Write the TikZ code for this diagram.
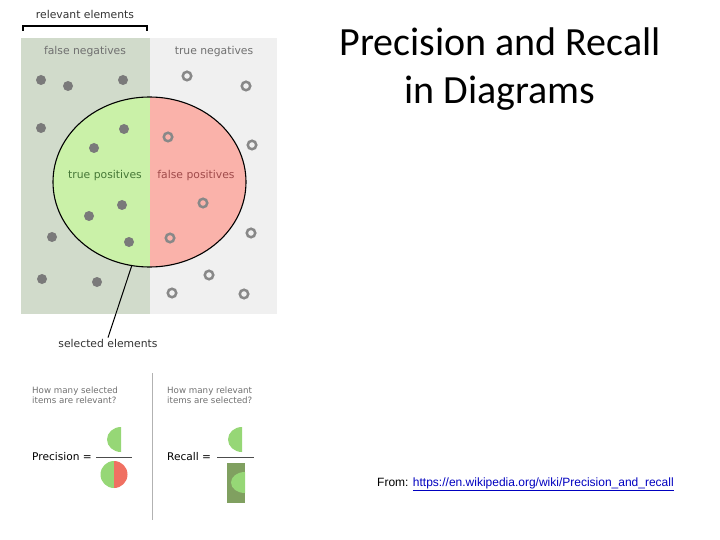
\documentclass[tikz,border=0pt]{standalone}
\usepackage{fontspec}
\usepackage{tikz}
\usetikzlibrary{positioning}
\usetikzlibrary{shapes.geometric}
\newfontfamily\wikifont{DejaVu Sans}
\newfontfamily\titlefont{Carlito}
\newfontfamily\fromfont{Liberation Sans}
\definecolor{fnbg}{RGB}{209,219,203}
\definecolor{tnbg}{RGB}{240,240,240}
\definecolor{tpfill}{RGB}{202,241,168}
\definecolor{fpfill}{RGB}{250,178,170}
\definecolor{dotgrey}{RGB}{122,122,122}
\definecolor{ringgrey}{RGB}{136,136,136}
\definecolor{lblgrey}{RGB}{112,112,112}
\definecolor{tptext}{RGB}{70,120,55}
\definecolor{fptext}{RGB}{160,75,75}
\definecolor{hgreen}{RGB}{150,215,118}
\definecolor{hred}{RGB}{240,112,98}
\definecolor{hdark}{RGB}{128,160,96}
\tikzset{
  fndot/.style={circle,fill=dotgrey,inner sep=0pt,minimum size=10pt},
  tndot/.style={circle,draw=ringgrey,line width=2.5pt,inner sep=0pt,minimum size=8.5pt},
  lbl/.style={font=\wikifont\fontsize{10.8}{12}\selectfont,text=lblgrey,inner sep=1pt},
  qtext/.style={lbl,anchor=north west,align=left,font=\wikifont\fontsize{8.7}{10}\selectfont},
  frac/.style={font=\wikifont\fontsize{10.6}{12}\selectfont,inner sep=1pt,anchor=west}
}
\newcommand{\ellx}{149.5}
\newcommand{\elly}{182}

\begin{document}
\begin{tikzpicture}[x=1pt,y=-1pt]
\useasboundingbox (0,0) rectangle (720,540);
% panels
\fill[fnbg] (21,38) rectangle (149.5,314);
\fill[tnbg] (149.5,38) rectangle (277,314);
\begin{scope}
  \clip (\ellx,\elly) ellipse [x radius=96.5, y radius=85];
  \fill[tpfill] (53,97) rectangle (\ellx,267);
  \fill[fpfill] (\ellx,97) rectangle (246,267);
\end{scope}
\node (sel) [ellipse,draw,line width=1.1pt,minimum width=193pt,minimum height=170pt,inner sep=0pt] at (\ellx,\elly) {};

\node (fn) [lbl] at (85,52) {false negatives};
\node (tn) [lbl] at (214,52) {true negatives};
\node (tp) [lbl,text=tptext] at (105,176) {true positives};
\node (fp) [lbl,text=fptext] at (196,176) {false positives};
\node (rel) [lbl,text=black!80] at (85,14) {relevant elements};
\node (sellbl) [lbl,text=black!80] at (108,343) {selected elements};

\draw[line width=1.1pt] (23,31) -- (23,26) -- (147,26) -- (147,31);
\draw[line width=1pt] (sel.258) -- (sellbl.north);

% relevant items
\foreach \px/\py in {41/80,68/86,123/80,41/128,124/129,94/148,122/205,89/216,52/237,129/242,42/279,97/282}
  \node[fndot] at (\px,\py) {};
% irrelevant items
\foreach \px/\py in {187/76,246/86,168/137,252/145,203/203,251/233,170/238,209/275,172/293,244/294}
  \node[tndot] at (\px,\py) {};

% bottom formulas
\draw[black!30,line width=0.8pt] (152,373) -- (152,520);
\node (qp) [qtext] at (31,386) {How many selected\\items are relevant?};
\node (qr) [qtext] at (166,386) {How many relevant\\items are selected?};

\node (prec) [frac] at (31,457) {Precision =};
\draw[black!70,line width=1pt] (96,457) -- (132,457);
\fill[hgreen] (121,452) arc[start angle=90,end angle=270,x radius=14,y radius=12.5] -- cycle;
\fill[hgreen] (114,488) arc[start angle=90,end angle=270,radius=13.5] -- cycle;
\fill[hred] (114,461) arc[start angle=270,end angle=450,radius=13.5] -- cycle;

\node (rec) [frac] at (166,457) {Recall =};
\draw[black!70,line width=1pt] (217,457) -- (254,457);
\fill[hgreen] (242,452) arc[start angle=90,end angle=270,x radius=14,y radius=12.5] -- cycle;
\fill[hdark] (227,463) rectangle (245,503);
\fill[hgreen] (245,493) arc[start angle=90,end angle=270,x radius=14,y radius=10.5] -- cycle;

% title and source
\node (title) [align=center,font=\titlefont\fontsize{40}{48}\selectfont] at (500,69) {Precision and Recall\\in Diagrams};
\node (src) [anchor=west,font=\fromfont\fontsize{12}{14}\selectfont,inner sep=0pt] at (377,484) {From: {\color{blue!75!black}\underline{https://en.wikipedia.org/wiki/Precision\_and\_recall}}};
\end{tikzpicture}
\end{document}
